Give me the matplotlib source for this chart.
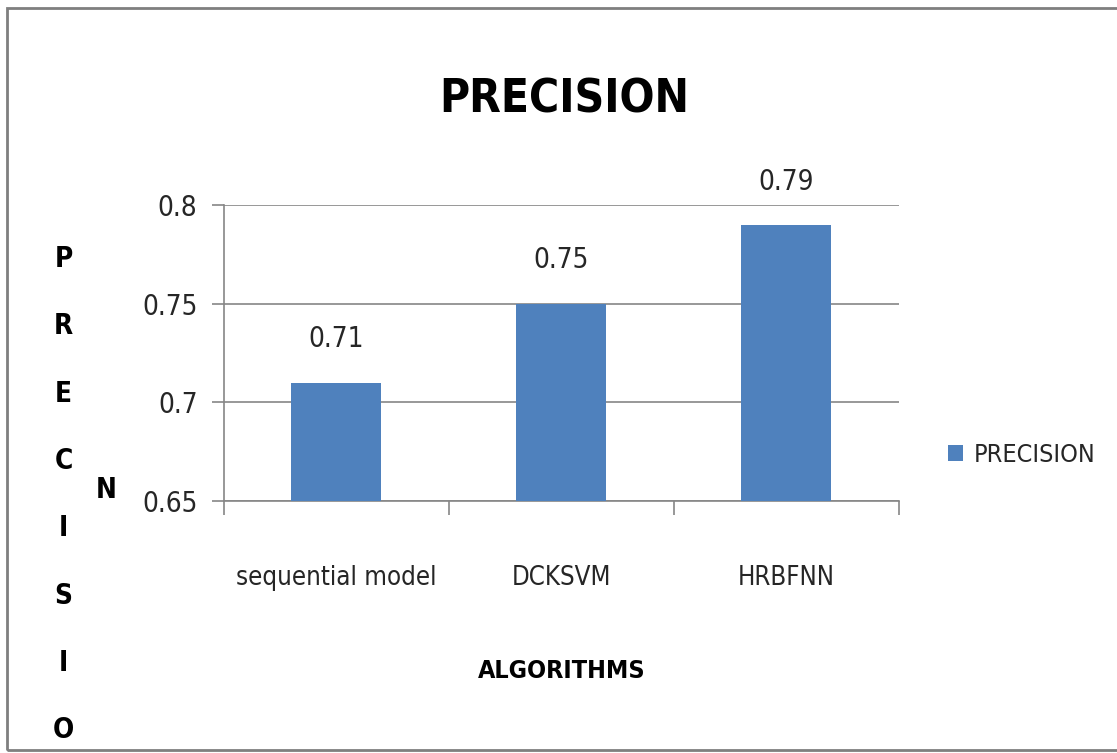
import matplotlib.pyplot as plt
from matplotlib.patches import Rectangle

plt.rcParams['font.family'] = ['DejaVu Sans']
plt.rcParams['font.stretch'] = 'condensed'

algoritmy = ["sequential model", "DCKSVM", "HRBFNN"]
precision = [0.71, 0.75, 0.79]
yticky = [0.65, 0.7, 0.75, 0.8]
yticky_text = ["0.65", "0.7", "0.75", "0.8"]
popisky = ["0.71", "0.75", "0.79"]

modra = "#4F81BD"
seda = "#868686"
text_barva = "#262626"

fig = plt.figure(figsize=(11.17, 7.53), dpi=100)
ax = fig.add_axes([0.2005, 0.3347, 0.6043, 0.3931])

x = list(range(len(algoritmy)))
bary = ax.bar(x, precision, width=0.4, color=modra, label="PRECISION", zorder=3)

ax.set_xlim(-0.5, 2.5)
ax.set_ylim(0.65, 0.8)
ax.set_yticks(yticky)
ax.set_yticklabels(yticky_text, fontsize=20, color=text_barva)
ax.set_xticks(x)
ax.set_xticklabels(algoritmy, fontsize=18.5, color=text_barva)
ax.set_xticks([-0.5, 0.5, 1.5, 2.5], minor=True)
ax.tick_params(axis='x', which='major', length=0, pad=46)
ax.tick_params(axis='x', which='minor', length=10, color=seda, width=1.2)
ax.tick_params(axis='y', length=9, color=seda, width=1.2, pad=10)

ax.grid(axis='y', color=seda, linewidth=1.2, zorder=0)
for s in ['top', 'right']:
    ax.spines[s].set_visible(False)
for s in ['left', 'bottom']:
    ax.spines[s].set_color(seda)
    ax.spines[s].set_linewidth(1.2)

for b, t in zip(bary, popisky):
    ax.annotate(t, (b.get_x() + b.get_width() / 2, b.get_height()),
                xytext=(0, 21), textcoords='offset points',
                ha='center', va='bottom', fontsize=20, color=text_barva)

fig.text(0.505, 1 - 100 / 753, "PRECISION", ha='center', va='center',
         fontsize=33, fontweight='bold')
fig.text(0.503, 1 - 671 / 753, "ALGORITHMS", ha='center', va='center',
         fontsize=18, fontweight='bold')

# popisek osy y zalomeny po pismenech jako v Excelu
pismena = "PRECISIO"
for i, p in enumerate(pismena):
    fig.text(0.057, 1 - (259 + i * 67.3) / 753, p, ha='center', va='center',
             fontsize=20, fontweight='bold')
fig.text(0.095, 1 - 490 / 753, "N", ha='center', va='center',
         fontsize=20, fontweight='bold')

ax.legend(loc='center left', bbox_to_anchor=(1.04, 0.155), frameon=False,
          fontsize=18, handlelength=0.6, handleheight=0.6, handletextpad=0.4,
          labelcolor=text_barva)

fig.patches.append(Rectangle((7 / 1117, 3 / 753), 1.1, 1 - 11 / 753,
                             transform=fig.transFigure, fill=False,
                             edgecolor="#7f7f7f", linewidth=2))

fig.savefig("out.png", dpi=100)
